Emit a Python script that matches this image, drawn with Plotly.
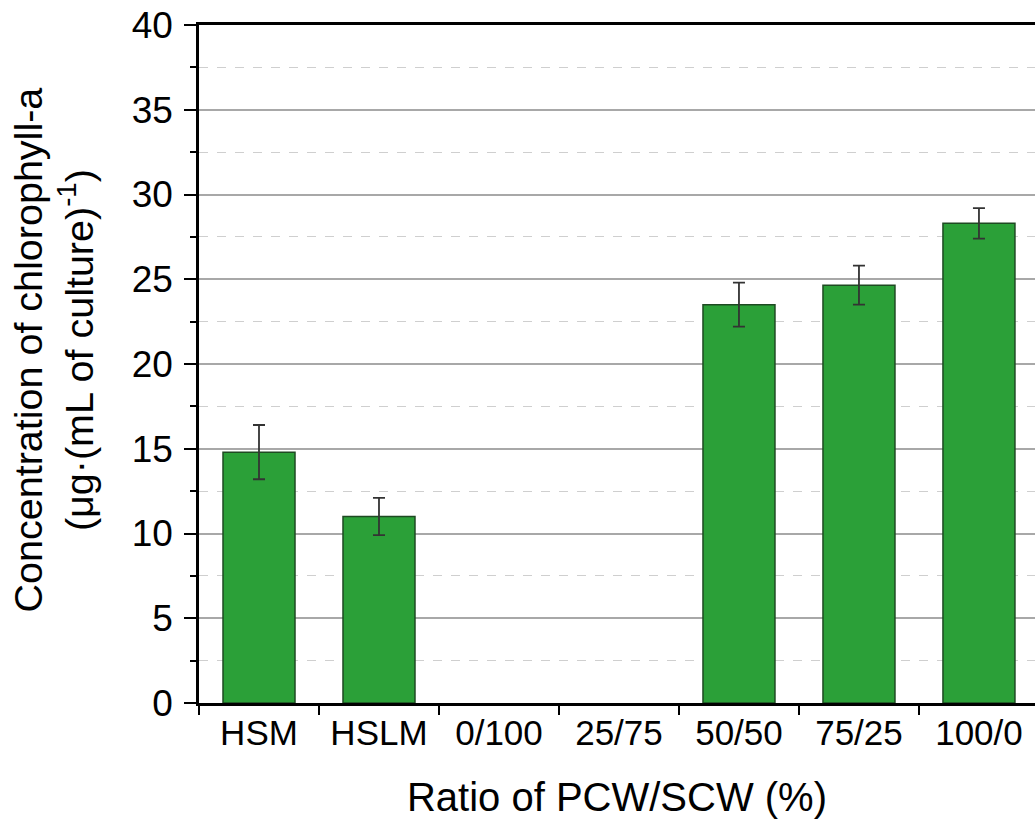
import plotly.graph_objects as go

categories = ["HSM", "HSLM", "0/100", "25/75", "50/50", "75/25", "100/0"]
chl_a = [14.8, 11.0, None, None, 23.5, 24.65, 28.3]
chl_a_err = [1.6, 1.1, None, None, 1.3, 1.15, 0.9]
y_ticks = [0, 5, 10, 15, 20, 25, 30, 35, 40]

FONT = "Arial, Liberation Sans, sans-serif"

fig = go.Figure()
fig.add_trace(go.Bar(
    x=categories,
    y=chl_a,
    width=0.6,
    marker=dict(color="#2BA038", line=dict(color="#1E4A22", width=1.5)),
    error_y=dict(type="data", array=chl_a_err, visible=True,
                 color="#333333", thickness=1.8, width=6),
    showlegend=False,
))

fig.update_layout(
    width=1035, height=825,
    margin=dict(l=199, r=0, t=25, b=122, autoexpand=False),
    paper_bgcolor="white", plot_bgcolor="white",
    font=dict(family=FONT, color="black"),
    bargap=0.4,
)

fig.update_xaxes(
    type="category",
    range=[-0.5, 6.467],
    showline=True, linecolor="black", linewidth=2.5, mirror=True,
    ticks="outside", tickson="boundaries", ticklen=9, tickwidth=2, tickcolor="black",
    tickfont=dict(size=35, family=FONT, color="black"),
    ticklabelstandoff=-3,
    ticklabeloverflow="allow",
    showgrid=False,
    automargin=False,
    title=dict(text="Ratio of PCW/SCW (%)", font=dict(size=40, family=FONT), standoff=33),
)

fig.update_yaxes(
    range=[0, 40],
    tickvals=y_ticks,
    showline=True, linecolor="black", linewidth=2.5, mirror=False,
    ticks="outside", ticklen=12, tickwidth=2, tickcolor="black",
    tickfont=dict(size=37, family=FONT, color="black"),
    ticklabelstandoff=4,
    ticklabeloverflow="allow",
    showgrid=True, gridcolor="#a8a8a8", gridwidth=1.5,
    zeroline=False,
    automargin=False,
    minor=dict(dtick=2.5, ticks="outside", ticklen=6, tickwidth=2, tickcolor="black",
               showgrid=True, gridcolor="#cfcfcf", gridwidth=1.2, griddash="dash"),
)

fig.add_annotation(
    text="Concentration of chlorophyll-a<br>(μg·(mL of culture)<sup>-1</sup>)",
    textangle=-90,
    xref="paper", yref="paper",
    x=-0.1746, y=0.52, xanchor="center", yanchor="middle",
    showarrow=False,
    font=dict(size=39.5, family=FONT, color="black"),
)

fig.write_html("out.html", config={"displayModeBar": False},
               post_script="document.body.style.margin='0px';")
